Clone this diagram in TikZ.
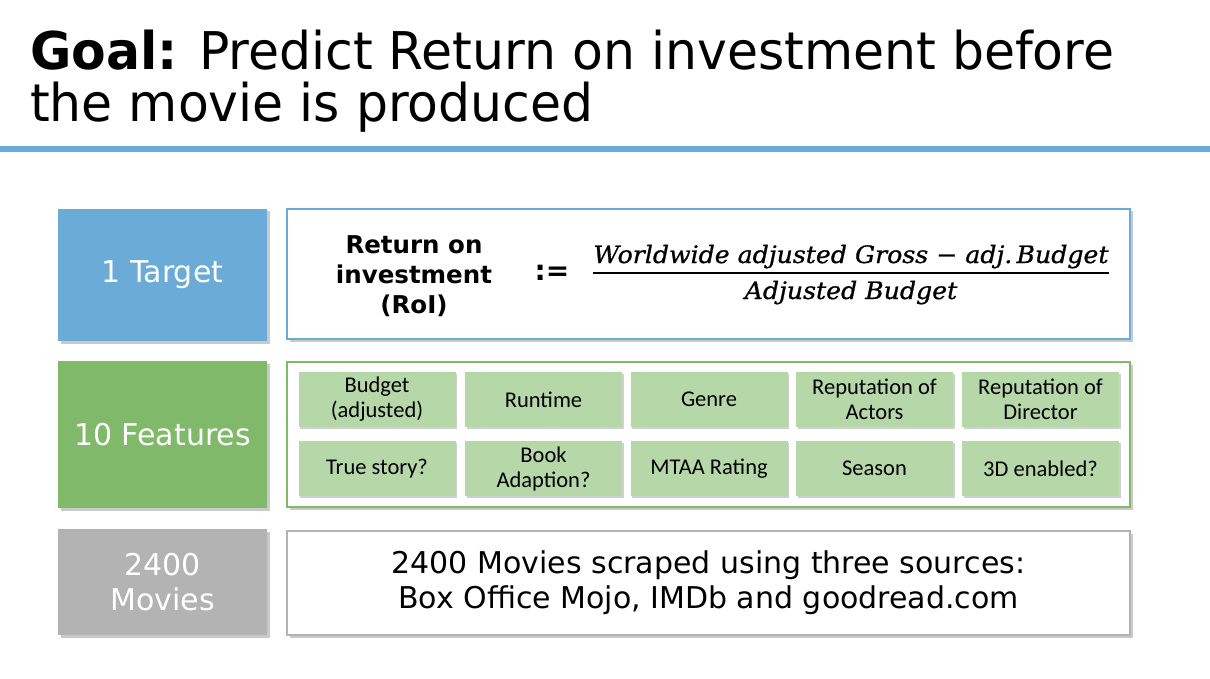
\documentclass[tikz,border=0pt]{standalone}
\usepackage{fontspec}
\setmainfont{DejaVu Sans}
\newfontfamily\featfont{Carlito}
\newfontface\formulafont{DejaVu Serif Italic}[FakeBold=0.9]
\usetikzlibrary{shadows}

\definecolor{ruleblue}{HTML}{68ACDA}
\definecolor{tgtblue}{HTML}{6AABD8}
\definecolor{featgreen}{HTML}{80B96A}
\definecolor{featfill}{HTML}{B6D7A8}
\definecolor{movgray}{HTML}{B3B3B3}
\definecolor{shadowgray}{HTML}{8A8A8A}

\tikzset{
  boxshadow/.style={drop shadow={shadow xshift=2.5pt, shadow yshift=-2.5pt, opacity=0.45, fill=shadowgray}},
  labelbox/.style={boxshadow, minimum width=209pt, inner sep=0pt, text=white, align=center,
    font=\fontsize{30}{35}\selectfont},
  contentbox/.style={boxshadow, fill=white, line width=2.5pt, minimum width=843pt, inner sep=0pt, align=center},
  featbox/.style={drop shadow={shadow xshift=1.5pt, shadow yshift=-1.5pt, opacity=0.4, fill=shadowgray},
    fill=featfill, minimum width=157pt, minimum height=55pt, inner sep=0pt, align=center,
    font=\featfont\fontsize{22.5}{25}\selectfont},
  titletext/.style={anchor=base west, inner sep=0pt, font=\fontsize{52}{52}\selectfont},
  formula/.style={anchor=base, inner sep=0pt, font=\formulafont\fontsize{24}{24}\selectfont}
}

\begin{document}
\begin{tikzpicture}[x=1pt, y=-1pt]
\useasboundingbox (0,0) rectangle (1210,679);
\fill[white] (0,0) rectangle (1210,679);

% title
\node[titletext] (title1) at (30,70)
  {\scalebox{0.97}[1]{\textbf{Goal:} Predict Return on investment before}};
\node[titletext] (title2) at (30,122)
  {\scalebox{0.97}[1]{the movie is produced}};
\fill[ruleblue] (0,146) rectangle (1210,152);

% left-hand labels
\node[labelbox, fill=tgtblue, minimum height=132pt] (tgt) at (162.5,275) {1 Target};
\node[labelbox, fill=featgreen, minimum height=147pt] (feat) at (162.5,434.5) {10 Features};
\node[labelbox, fill=movgray, minimum height=106pt] (mov) at (162.5,582) {2400\\Movies};

% right-hand content boxes
\node[contentbox, draw=tgtblue, minimum height=130pt] (tgtbox) at (708.5,274) {};
\node[contentbox, draw=featgreen, minimum height=145pt] (featbox) at (708.5,434.5) {};
\node[contentbox, draw=movgray, minimum height=104pt,
      font=\fontsize{30}{35}\selectfont] (movbox) at (708.5,583)
  {2400 Movies scraped using three sources:\\Box Office Mojo, IMDb and goodread.com};

% target definition
\node[align=center, inner sep=0pt, font=\bfseries\fontsize{24.5}{30}\selectfont] (roi) at (414,276)
  {Return on\\investment\\(RoI)};
\node[inner sep=0pt, font=\bfseries\fontsize{28}{28}\selectfont] (defeq) at (552,273) {:=};
\node[formula] (num) at (851,263)
  {\scalebox{1.05}[1]{Worldwide adjusted Gross − adj.\,Budget}};
\node[formula] (den) at (851,299)
  {\scalebox{1.05}[1]{Adjusted Budget}};
\draw[line width=2pt] ([yshift=-10pt]num.base west) -- ([yshift=-10pt]num.base east);

% features
\node[featbox] (f1) at (377,399.5) {Budget\\(adjusted)};
\node[featbox] (f2) at (543.5,399.5) {Runtime};
\node[featbox] (f3) at (709,399.5) {Genre};
\node[featbox] (f4) at (874.5,399.5) {Reputation of\\Actors};
\node[featbox] (f5) at (1040.5,399.5) {Reputation of\\Director};
\node[featbox] (f6) at (377,468.5) {True story?};
\node[featbox] (f7) at (543.5,468.5) {Book\\Adaption?};
\node[featbox] (f8) at (709,468.5) {MTAA Rating};
\node[featbox] (f9) at (874.5,468.5) {Season};
\node[featbox] (f10) at (1040.5,468.5) {3D enabled?};
\end{tikzpicture}
\end{document}
